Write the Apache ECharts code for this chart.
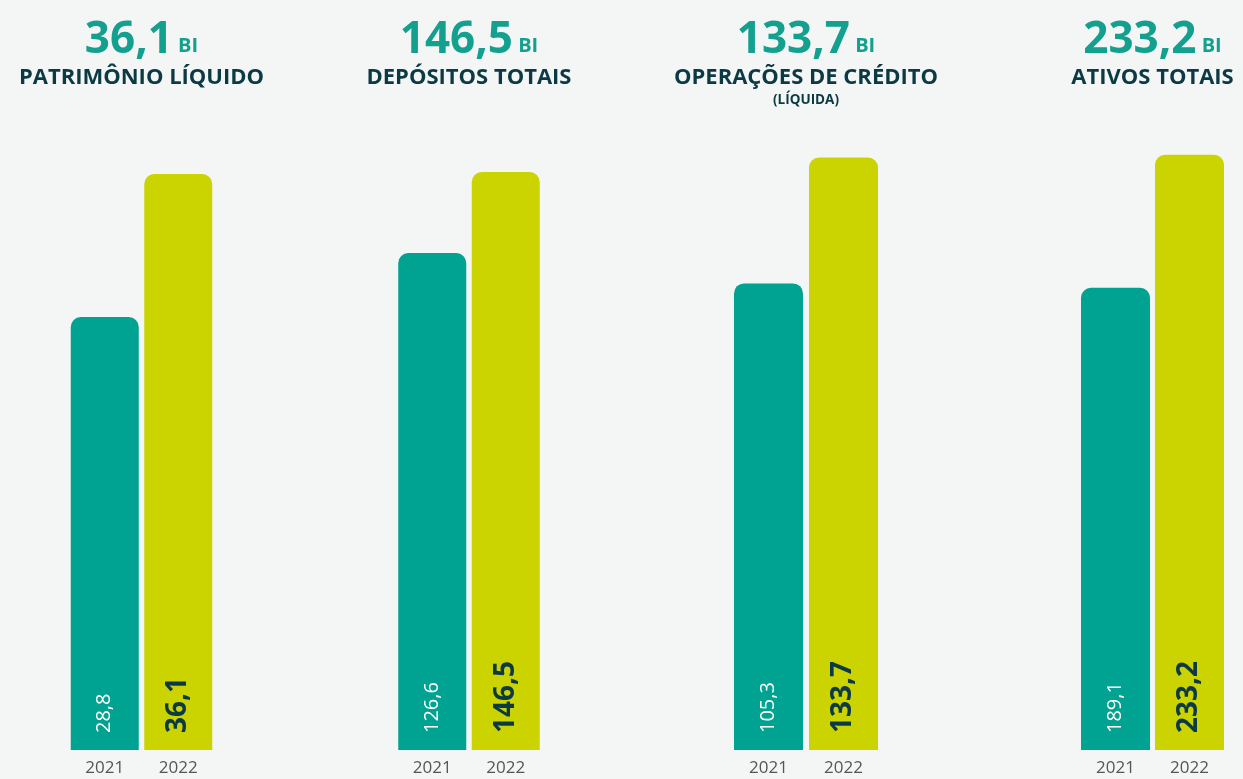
<!DOCTYPE html>
<html>
<head>
<meta charset="utf-8">
<script src="https://cdn.jsdelivr.net/npm/echarts@6/dist/echarts.min.js"></script>
<style>
  html, body { margin: 0; padding: 0; background: #f4f5f5; }
  #chart { width: 1243px; height: 779px; }
</style>
</head>
<body>
<div id="chart"></div>
<script>
// dados (R$ bilhões)
var years = ['2021', '2022'];
var panelNames = ['PATRIMÔNIO LÍQUIDO', 'DEPÓSITOS TOTAIS', 'OPERAÇÕES DE CRÉDITO', 'ATIVOS TOTAIS'];
var panelNotes = ['', '', '(LÍQUIDA)', ''];
var patrimonio = [28.8, 36.1];
var depositos = [126.6, 146.5];
var operacoes = [105.3, 133.7];
var ativos = [189.1, 233.2];
var panelData = [patrimonio, depositos, operacoes, ativos];

var teal = '#00a291';
var lime = '#cbd300';
var navy = '#0c3a44';
var font = '"Open Sans", "Noto Sans", sans-serif';

// layout de cada painel (posição e escala do eixo)
var grids = [
  { left: 68, width: 147, bar: 68, min: 6.7, max: 37.33 },
  { left: 395.5, width: 147, bar: 68, min: 4.5, max: 151.9 },
  { left: 731, width: 150, bar: 69, min: 0, max: 135.4 },
  { left: 1078.5, width: 148, bar: 69, min: 35.9, max: 234.8 }
];

function fmt(v) {
  return v.toFixed(1).replace('.', ',');
}

var option = {
  backgroundColor: '#f4f5f5',
  textStyle: { fontFamily: font },
  title: [],
  grid: [],
  xAxis: [],
  yAxis: [],
  series: []
};

grids.forEach(function (g, i) {
  var vals = panelData[i];
  var center = g.left + g.width / 2 - 5;
  var txt = '{n|' + fmt(vals[1]) + '}{u| BI}\n{s|' + panelNames[i] + '}';
  if (panelNotes[i]) txt += '\n{p|' + panelNotes[i] + '}';
  option.title.push({
    left: center,
    top: 11,
    textAlign: 'center',
    text: txt,
    textStyle: {
      rich: {
        n: { fontFamily: font, fontSize: 44, fontWeight: 'bold', color: '#13a08e', lineHeight: 48 },
        u: { fontFamily: font, fontSize: 20, fontWeight: 'bold', color: '#13a08e', lineHeight: 48, padding: [12, 0, 0, 0] },
        s: { fontFamily: font, fontSize: 22, fontWeight: 'bold', color: navy, lineHeight: 28 },
        p: { fontFamily: font, fontSize: 13.5, fontWeight: 'bold', color: navy, lineHeight: 16 }
      }
    }
  });
  option.grid.push({ left: g.left, width: g.width, top: 150, bottom: 29 });
  option.xAxis.push({
    type: 'category',
    gridIndex: i,
    data: years,
    axisLine: { show: false },
    axisTick: { show: false },
    axisLabel: { color: '#555', fontSize: 17, margin: 10, fontFamily: font }
  });
  option.yAxis.push({
    type: 'value',
    gridIndex: i,
    min: g.min,
    max: g.max,
    show: false,
    splitLine: { show: false }
  });
  option.series.push({
    type: 'bar',
    xAxisIndex: i,
    yAxisIndex: i,
    barWidth: g.bar,
    data: [
      {
        value: vals[0],
        itemStyle: { color: teal, borderRadius: [10, 10, 0, 0] },
        label: { color: '#fff', fontSize: 20, fontWeight: 'normal' }
      },
      {
        value: vals[1],
        itemStyle: { color: lime, borderRadius: [10, 10, 0, 0] },
        label: { color: navy, fontSize: 28, fontWeight: 'bold' }
      }
    ],
    label: {
      show: true,
      position: 'insideBottom',
      rotate: 90,
      align: 'left',
      verticalAlign: 'middle',
      distance: 17,
      fontFamily: font,
      formatter: function (p) { return fmt(p.value); }
    }
  });
});

var chart = echarts.init(document.getElementById('chart'));
chart.setOption(option);
</script>
</body>
</html>
